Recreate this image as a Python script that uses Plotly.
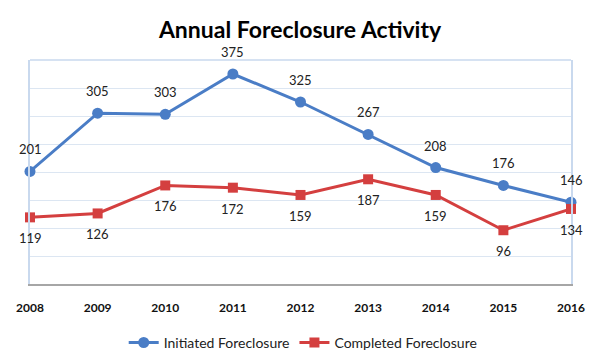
import plotly.graph_objects as go

years = [2008, 2009, 2010, 2011, 2012, 2013, 2014, 2015, 2016]
initiated = [201, 305, 303, 375, 325, 267, 208, 176, 146]
completed = [119, 126, 176, 172, 159, 187, 159, 96, 134]

BLUE = "#4A7DC6"
RED = "#D43F3F"
FONT = "Lato"

fig = go.Figure()
fig.add_trace(go.Scatter(
    x=years, y=initiated, name="Initiated Foreclosure", mode="lines+markers",
    line=dict(color=BLUE, width=3), marker=dict(symbol="circle", size=11, color=BLUE),
    cliponaxis=False,
))
fig.add_trace(go.Scatter(
    x=years, y=completed, name="Completed Foreclosure", mode="lines+markers",
    line=dict(color=RED, width=3), marker=dict(symbol="square", size=10, color=RED),
    cliponaxis=False,
))

annotations = []
for x, v in zip(years, initiated):
    annotations.append(dict(x=x, y=v, xref="x", yref="y", text=str(v), showarrow=False,
                            yshift=22, font=dict(family=FONT, size=13, color="#222")))
for x, v in zip(years, completed):
    annotations.append(dict(x=x, y=v, xref="x", yref="y", text=str(v), showarrow=False,
                            yshift=-21, font=dict(family=FONT, size=13, color="#222")))

fig.update_layout(
    width=600, height=355,
    margin=dict(l=30, r=29, t=60, b=71, autoexpand=False),
    paper_bgcolor="white", plot_bgcolor="white",
    title=dict(text="<b>Annual Foreclosure Activity</b>", x=0.5, xanchor="center",
               y=1 - 30 / 355, yanchor="middle",
               font=dict(family=FONT, size=23, color="black")),
    showlegend=True,
    legend=dict(orientation="h", x=0.505, xanchor="center", y=-0.263, yanchor="middle",
                font=dict(family=FONT, size=14, color="#222"), itemwidth=30,
                tracegroupgap=0),
    annotations=annotations,
    xaxis=dict(range=[2008, 2016], tickmode="array", tickvals=years,
               ticktext=[f"<b>{y}</b>" for y in years], automargin=False,
               tickfont=dict(family=FONT, size=12, color="#111"),
               showgrid=False, showline=True, linecolor="#A6A6A6", linewidth=1.5,
               ticks="outside", ticklen=12, tickcolor="rgba(0,0,0,0)", zeroline=False),
    yaxis=dict(range=[0, 400], dtick=50, showticklabels=False, showgrid=True,
               gridcolor="#DCE6F2", gridwidth=1, showline=True, linecolor="#C9D9EE",
               linewidth=1.5, mirror=True, zeroline=False, ticks="", automargin=False),
    shapes=[dict(type="line", xref="paper", yref="paper", x0=0, x1=1, y0=1, y1=1,
                 line=dict(color="#C9D9EE", width=1.5))],
)

fig.write_html("out.html", config={"displayModeBar": False},
               post_script="document.body.style.margin='0';document.body.style.overflow='hidden';")
